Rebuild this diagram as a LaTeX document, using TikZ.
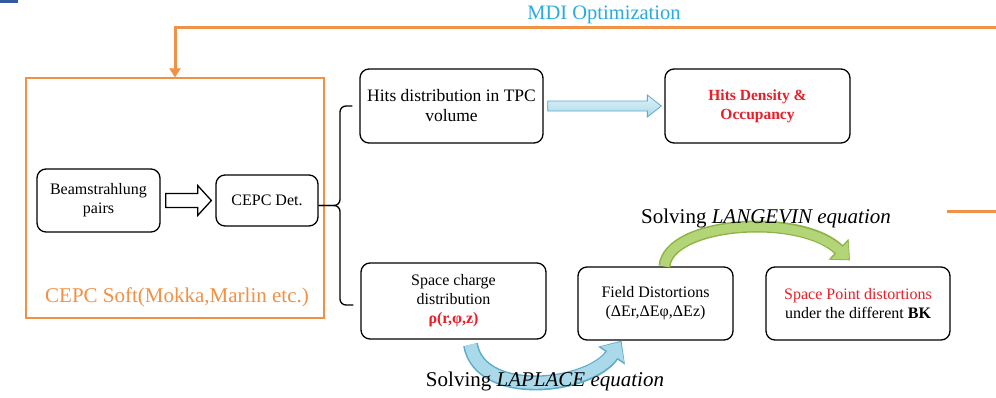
\documentclass[tikz,border=0pt]{standalone}
\usepackage{fontspec}
\setmainfont{Liberation Serif}
\usetikzlibrary{arrows.meta,calc}
\definecolor{orng}{RGB}{240,145,70}
\definecolor{mdiblue}{RGB}{41,171,226}
\definecolor{redtxt}{RGB}{232,30,40}
\definecolor{bandblue}{RGB}{170,218,234}
\definecolor{bandblueedge}{RGB}{95,170,200}
\definecolor{bandgreen}{RGB}{180,212,120}
\definecolor{bandgreenedge}{RGB}{140,180,70}
\definecolor{cornerblue}{RGB}{50,90,160}
\begin{document}
\begin{tikzpicture}[x=1pt,y=-1pt,
  box/.style={draw, line width=1.3pt, rounded corners=9pt, align=center,
    font=\fontsize{16}{19}\selectfont, inner sep=2pt},
  softbox/.style={draw=orng, line width=1.2pt},
  orangeline/.style={orng, line width=3pt},
  biglabel/.style={font=\fontsize{21}{24}\selectfont}]
\useasboundingbox (0,0) rectangle (996,397);
\fill[white] (0,0) rectangle (996,397);
\fill[cornerblue] (0,0) rectangle (18,3);

% boxes
\node[softbox, minimum width=298pt, minimum height=240pt] (soft) at (175,198) {};
\node[font=\fontsize{21}{24}\selectfont, text=orng] (softlbl) at (177,297) {CEPC Soft(Mokka,Marlin etc.)};
\node[box, minimum width=123pt, minimum height=63pt] (beam) at (98.5,200.5) {Beamstrahlung\\pairs};
\node[box, minimum width=102pt, minimum height=51pt] (cepc) at (267,200.5) {CEPC Det.};
\node[box, minimum width=183pt, minimum height=74pt, font=\fontsize{17.5}{20}\selectfont] (hits) at (451.5,106) {Hits distribution in TPC\\volume};
\node[box, minimum width=185pt, minimum height=74pt, text=redtxt, font=\fontsize{15.5}{19}\selectfont\bfseries] (dens) at (757.5,106) {Hits Density \&\\Occupancy};
\node[box, minimum width=185pt, minimum height=76pt] (space) at (453.5,301) {Space charge\\distribution\\\textcolor{redtxt}{\textbf{ρ(r,φ,z)}}};
\node[box, minimum width=155pt, minimum height=73pt] (field) at (655.5,303.5) {Field Distortions\\(ΔEr,ΔEφ,ΔEz)};
\node[box, minimum width=184pt, minimum height=73pt] (spt) at (858,303.5) {\textcolor{redtxt}{Space Point distortions}\\under the different \textbf{BK}};

% feedback orange lines
\coordinate (fbR) at (996,27);
\draw[orangeline, -{Triangle[width=11pt,length=9pt]}] (fbR) -- (soft.north |- fbR) -- (soft.north);
\coordinate (oA) at (947,211);
\coordinate (oB) at (996,211);
\draw[orangeline] (oA) -- (oB);

% brace
\coordinate (bm) at ($(cepc.east)+(0,5)$);
\draw[line width=1.3pt, rounded corners=6pt] ($(hits.west)+(-7,0)$) -- (340,106) -- (340,205.5) -- (bm);
\draw[line width=1.3pt, rounded corners=6pt] ($(space.west)+(-7,4)$) -- (340,305) -- (340,205.5) -- (bm);

% hollow arrow
\draw[line width=1.3pt, fill=white, line join=miter]
  ($(beam.east)+(5,-7)$) -- ++(32,0) -- ++(0,-8) -- ($(cepc.west)+(-4,0)$)
  -- ($(beam.east)+(37,15)$) -- ++(0,-8) -- ($(beam.east)+(5,7)$) -- cycle;

% blue straight arrow
\draw[line width=0.8pt, draw=bandblueedge, top color=bandblue!35, bottom color=bandblue]
  ($(hits.east)+(4,-5)$) -- ($(dens.west)+(-17,-5)$) -- ($(dens.west)+(-17,-11)$)
  -- ($(dens.west)+(-3,0)$) -- ($(dens.west)+(-17,11)$) -- ($(dens.west)+(-17,5)$)
  -- ($(hits.east)+(4,5)$) -- cycle;

% curved band arrows (outline pass, then fill pass)
\coordinate (lapA) at ($(space.south)+(17,5)$);
\coordinate (lapB) at ($(field.south)+(-34,0)$);
\draw[bandblueedge, line width=15pt, -{Triangle[width=31pt,length=18pt]}]
  (lapA) .. controls (480,400) and (590,388) .. (lapB);
\draw[bandblue, line width=12pt, shorten >=1.5pt, -{Triangle[width=27pt,length=15pt]}]
  (lapA) .. controls (480,400) and (590,388) .. (lapB);
\coordinate (lanA) at ($(field.north)+(9,0)$);
\coordinate (lanB) at ($(spt.north)+(-8,-6)$);
\draw[bandgreenedge, line width=12pt, -{Triangle[width=28pt,length=16pt]}]
  (lanA) .. controls (668,222) and (800,212) .. (lanB);
\draw[bandgreen, line width=9pt, shorten >=1.5pt, -{Triangle[width=24pt,length=13pt]}]
  (lanA) .. controls (668,222) and (800,212) .. (lanB);

% labels
\node[text=mdiblue, font=\fontsize{20.5}{24}\selectfont] (mdi) at (604,15) {MDI Optimization};
\node[biglabel] (lap) at (545,381) {Solving \textit{LAPLACE equation}};
\node[biglabel] (lang) at (766,218) {Solving \textit{LANGEVIN equation}};
\end{tikzpicture}
\end{document}
